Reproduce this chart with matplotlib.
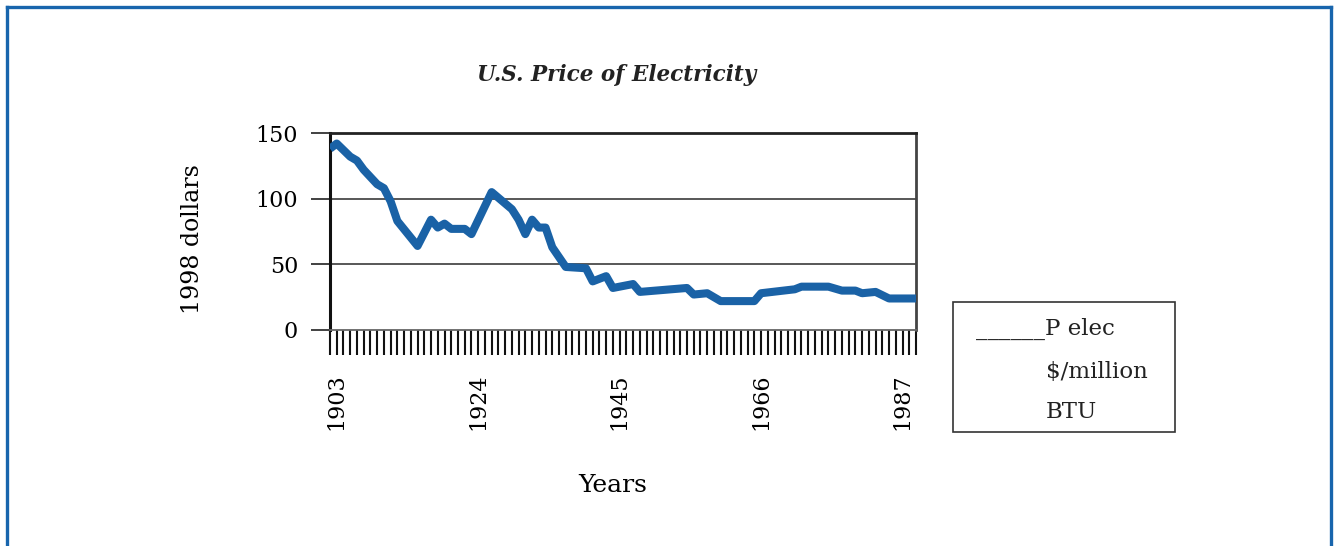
import numpy as np
import matplotlib.pyplot as plt
from matplotlib.lines import Line2D
from matplotlib.patches import Rectangle

plt.rcParams['font.family'] = ['DejaVu Serif']

# price of electricity, 1998 dollars per million BTU
years = [1902, 1903, 1905, 1906, 1907, 1909, 1910, 1911, 1912, 1915,
         1917, 1918, 1919, 1920, 1922, 1923, 1926, 1929, 1930, 1931,
         1932, 1933, 1934, 1935, 1937, 1940, 1941, 1942, 1943, 1944,
         1947, 1948, 1955, 1956, 1958, 1960, 1965, 1966, 1971, 1972,
         1976, 1978, 1980, 1981, 1983, 1985, 1989]
p_elec = [138, 142, 132, 129, 122, 111, 108, 98, 83, 64,
          84, 78, 81, 77, 77, 73, 105, 92, 84, 73,
          84, 78, 78, 63, 48, 47, 37, 39, 41, 32,
          35, 29, 32, 27, 28, 22, 22, 28, 31, 33,
          33, 30, 30, 28, 29, 24, 24]

year_labels = [1903, 1924, 1945, 1966, 1987]
y_ticks = [0, 50, 100, 150]

W, H = 1335, 546
fig = plt.figure(figsize=(W / 100, H / 100), dpi=100)
ax = fig.add_axes([330 / W, 1 - 330 / H, 586 / W, 197 / H])

ax.plot(years, p_elec, color='#1a62a6', lw=5.8, solid_joinstyle='round',
        solid_capstyle='butt', zorder=3)

ax.set_xlim(1902, 1989)
ax.set_ylim(0, 150)

# horizontal grid at 50 and 100
for v in y_ticks[1:3]:
    ax.axhline(v, color='#4a4a4a', lw=1.3, zorder=1)

ax.set_yticks(y_ticks)
ax.set_yticklabels([str(v) for v in y_ticks], fontsize=16)
ax.tick_params(axis='y', length=14, width=1.3, color='#333333', pad=9)

# one tick per year, labels every 21 years
all_years = np.arange(1902, 1990)
ax.set_xticks(all_years)
ax.set_xticklabels([str(y) if y in year_labels else '' for y in all_years],
                   rotation=90, fontsize=16)
ax.tick_params(axis='x', length=18, width=1.5, color='#111111', pad=13)

ax.spines['left'].set_linewidth(2.2)
ax.spines['left'].set_color('#111111')
ax.spines['top'].set_linewidth(2.0)
ax.spines['top'].set_color('#222222')
ax.spines['right'].set_linewidth(2.0)
ax.spines['right'].set_color('#444444')
ax.spines['bottom'].set_linewidth(1.3)
ax.spines['bottom'].set_color('#666666')

ax.set_ylabel('1998 dollars', fontsize=17)
ax.yaxis.set_label_coords(-0.215, 0.46)
ax.set_xlabel('Years', fontsize=18)
ax.xaxis.set_label_coords(0.483, -0.73)

fig.text(617 / W, 1 - 75 / H, 'U.S. Price of Electricity', ha='center',
         va='center', fontsize=15.5, fontweight='bold', fontstyle='italic',
         color='#222222')

# legend box drawn by hand
fig.add_artist(Rectangle((953 / W, 1 - 432 / H), 222 / W, 130 / H,
                         transform=fig.transFigure, fill=False,
                         edgecolor='#333333', lw=1.2))
fig.text(976 / W, 1 - 335 / H, '______P elec', fontsize=16.5, va='baseline',
         color='#222222')
fig.text(1046 / W, 1 - 378 / H, '$/million', fontsize=16.5, va='baseline',
         color='#222222')
fig.text(1046 / W, 1 - 418 / H, 'BTU', fontsize=16.5, va='baseline',
         color='#222222')

# blue outer frame (open at the bottom)
frame = dict(color='#1865ad', lw=2.4, transform=fig.transFigure)
fig.add_artist(Line2D([7 / W, 7 / W], [0, 1 - 7 / H], **frame))
fig.add_artist(Line2D([7 / W, 1331 / W], [1 - 7 / H, 1 - 7 / H], **frame))
fig.add_artist(Line2D([1331 / W, 1331 / W], [0, 1 - 7 / H], **frame))

fig.savefig('out.png', dpi=100)
